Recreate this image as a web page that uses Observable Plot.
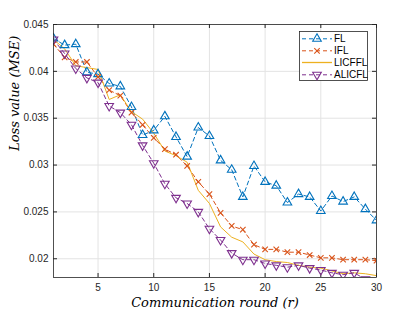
<!DOCTYPE html>
<html><head><meta charset="utf-8">
<script src="https://cdn.jsdelivr.net/npm/d3@7"></script>
<script src="https://cdn.jsdelivr.net/npm/@observablehq/plot@0.6"></script>
<style>body{margin:0;background:#fff;}</style>
</head><body><div id="chart"></div>
<script>
const rounds = [1,2,3,4,5,6,7,8,9,10,11,12,13,14,15,16,17,18,19,20,21,22,23,24,25,26,27,28,29,30];
const flLoss = [0.0435,0.0428,0.0429,0.0399,0.0397,0.0387,0.0384,0.0362,0.0332,0.0337,0.0352,0.0330,0.0309,0.0340,0.0331,0.0305,0.0295,0.0266,0.0299,0.0282,0.0278,0.0260,0.0269,0.0266,0.0251,0.0267,0.0261,0.0266,0.0253,0.0241];
const iflLoss = [0.0429,0.0415,0.0410,0.0410,0.0394,0.0380,0.0374,0.0356,0.0343,0.0329,0.0317,0.0311,0.0299,0.0282,0.0269,0.0249,0.0235,0.0231,0.0215,0.0210,0.0210,0.0207,0.0207,0.0204,0.0201,0.0201,0.0199,0.0199,0.0199,0.0198];
const licfflLoss = [0.0434,0.0424,0.0406,0.0404,0.0402,0.0370,0.0375,0.0357,0.0349,0.0334,0.0315,0.0310,0.0303,0.0273,0.0259,0.0234,0.0223,0.0218,0.0205,0.0199,0.0197,0.0196,0.0193,0.0191,0.0190,0.0187,0.0184,0.0185,0.0184,0.0182];
const alicflLoss = [0.0434,0.0419,0.0403,0.0393,0.0388,0.0363,0.0356,0.0343,0.0321,0.0302,0.0280,0.0265,0.0259,0.0250,0.0232,0.0220,0.0206,0.0199,0.0199,0.0195,0.0193,0.0191,0.0193,0.0190,0.0188,0.0185,0.0183,0.0185,0.0178,0.0176];
const seriesNames = ["FL","IFL","LICFFL","ALICFL"];
const seriesColors = ["#0072BD","#D95319","#EDB120","#7E2F8E"];
const xTicks = [5,10,15,20,25,30];
const yTicks = [0.02,0.025,0.03,0.035,0.04,0.045];
const yTickLabels = ["0.02","0.025","0.03","0.035","0.04","0.045"];
const xDomain = [1,30];
const yDomain = [0.018,0.045];

const mk = (vals) => rounds.map((r,i)=>({r, v: vals[i]}));
const fl = mk(flLoss), ifl = mk(iflLoss), lic = mk(licfflLoss), ali = mk(alicflLoss);

const W = 415, H = 312, mL = 53, mR = 39, mT = 24, mB = 35;
const pxX = (xDomain[1]-xDomain[0])/(W-mL-mR);
const pxY = (yDomain[1]-yDomain[0])/(H-mT-mB);
const tk = 4;
const axisColor = "#262626";
const tickFont = "Liberation Sans, Arial, sans-serif";
const labelFont = "DejaVu Serif, serif";

const chart = Plot.plot({
  width: W, height: H,
  marginLeft: mL, marginRight: mR, marginTop: mT, marginBottom: mB,
  style: {fontFamily: tickFont, fontSize: "10px", color: axisColor, background: "#fff"},
  x: {domain: xDomain},
  y: {domain: yDomain},
  marks: [
    Plot.gridX(xTicks, {stroke: "#e3e3e3", strokeOpacity: 1}),
    Plot.gridY(yTicks, {stroke: "#e3e3e3", strokeOpacity: 1}),
    Plot.axisX({ticks: xTicks, tickSize: 0, tickPadding: 6, label: null, fill: axisColor}),
    Plot.axisY({ticks: yTicks, tickSize: 0, tickPadding: 5, label: null, fill: axisColor,
      tickFormat: d => yTickLabels[yTicks.findIndex(t => Math.abs(t-d) < 1e-9)]}),
    Plot.ruleX(xTicks, {x: d=>d, y1: yDomain[0], y2: yDomain[0]+tk*pxY, stroke: axisColor}),
    Plot.ruleX(xTicks, {x: d=>d, y1: yDomain[1]-tk*pxY, y2: yDomain[1], stroke: axisColor}),
    Plot.ruleY(yTicks, {y: d=>d, x1: xDomain[0], x2: xDomain[0]+tk*pxX, stroke: axisColor}),
    Plot.ruleY(yTicks, {y: d=>d, x1: xDomain[1]-tk*pxX, x2: xDomain[1], stroke: axisColor}),
    Plot.line(fl, {x: "r", y: "v", stroke: seriesColors[0], strokeWidth: 1, strokeDasharray: "4,3", clip: true}),
    Plot.line(ifl, {x: "r", y: "v", stroke: seriesColors[1], strokeWidth: 1, strokeDasharray: "4,3", clip: true}),
    Plot.line(lic, {x: "r", y: "v", stroke: seriesColors[2], strokeWidth: 1, clip: true}),
    Plot.line(ali, {x: "r", y: "v", stroke: seriesColors[3], strokeWidth: 1, strokeDasharray: "4,3", clip: true}),
    Plot.dot(fl, {x: "r", y: "v", symbol: "triangle", r: 3.2, stroke: seriesColors[0], strokeWidth: 1.1, fill: "none", clip: true}),
    Plot.dot(ifl, {x: "r", y: "v", symbol: "times", r: 2.6, stroke: seriesColors[1], strokeWidth: 1.1, fill: "none", clip: true}),
    Plot.dot(ali, {x: "r", y: "v", symbol: "triangle", rotate: 180, r: 3.2, stroke: seriesColors[3], strokeWidth: 1.1, fill: "none", clip: true}),
    Plot.frame({stroke: axisColor, strokeWidth: 0.8}),
    Plot.text(["Communication round (r)"], {frameAnchor: "bottom", dy: 29, fontStyle: "italic", fontFamily: labelFont, fontSize: 13, fill: "#000"}),
    Plot.text(["Loss value (MSE)"], {frameAnchor: "left", dx: -39, rotate: -90, fontStyle: "italic", fontFamily: labelFont, fontSize: 13, fill: "#000"})
  ]
});
document.getElementById("chart").appendChild(chart);

// legend
const svg = d3.select(chart);
const lg = svg.append("g").attr("font-family", tickFont).attr("font-size", 10).attr("text-anchor", "start");
lg.append("rect").attr("x", 299.5).attr("y", 31.5).attr("width", 68).attr("height", 49)
  .attr("fill", "#fff").attr("stroke", axisColor).attr("stroke-width", 0.8);
const rowY = [38.8, 50.8, 62.5, 74.8];
const symFns = [d3.symbol(d3.symbolTriangle, Math.PI*3.2*3.2), d3.symbol(d3.symbolTimes, Math.PI*2.6*2.6), null, d3.symbol(d3.symbolTriangle, Math.PI*3.2*3.2)];
seriesNames.forEach((name, i) => {
  const y = rowY[i];
  lg.append("line").attr("x1", 302).attr("x2", 332).attr("y1", y).attr("y2", y)
    .attr("stroke", seriesColors[i]).attr("stroke-width", i === 2 ? 1.3 : 1)
    .attr("stroke-dasharray", i === 2 ? null : "4,3");
  if (symFns[i]) {
    lg.append("path").attr("d", symFns[i]())
      .attr("transform", `translate(317,${y})` + (i === 3 ? " rotate(180)" : ""))
      .attr("fill", "none").attr("stroke", seriesColors[i]).attr("stroke-width", 1.1);
  }
  lg.append("text").attr("x", 334).attr("y", y).attr("dy", "0.35em").attr("text-anchor", "start").attr("fill", "#000").text(name);
});
</script>
</body></html>
